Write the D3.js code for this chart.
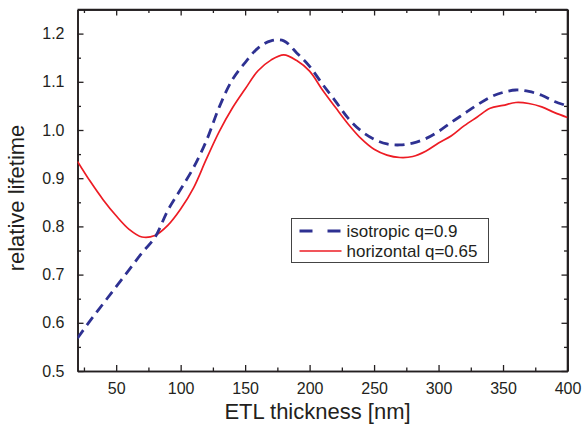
<!DOCTYPE html>
<html lang="en">
<head>
<meta charset="UTF-8" />
<title>Relative lifetime vs ETL thickness</title>
<script src="https://d3js.org/d3.v7.min.js"></script>
<style>
  body { margin: 0; background: #fff; }
  svg text { font-family: "Liberation Sans", Arial, sans-serif; fill: #231f20; }
  .axis path, .axis line { stroke: #231f20; }
</style>
</head>
<body>
<svg id="chart" width="583" height="434"></svg>
<script>
// ETL thickness in nm
var thickness = [20, 30, 40, 50, 60, 70, 80, 90, 100, 110, 120, 130, 140, 150, 160, 170, 180, 190, 200,
  210, 220, 230, 240, 250, 260, 270, 280, 290, 300, 310, 320, 330, 340, 350, 360, 370, 380, 390, 400];

var isotropic = [0.568, 0.605, 0.640, 0.675, 0.710, 0.745, 0.777, 0.833, 0.877, 0.922, 0.978, 1.048, 1.104, 1.140,
  1.170, 1.185, 1.185, 1.160, 1.132, 1.095, 1.060, 1.024, 0.998, 0.981, 0.971, 0.969, 0.973, 0.982, 0.997,
  1.016, 1.034, 1.052, 1.068, 1.078, 1.083, 1.080, 1.072, 1.059, 1.050];

var horizontal = [0.935, 0.893, 0.855, 0.822, 0.794, 0.778, 0.781, 0.802, 0.836, 0.880, 0.940, 0.997, 1.045, 1.085,
  1.123, 1.145, 1.156, 1.144, 1.122, 1.083, 1.047, 1.012, 0.982, 0.960, 0.948, 0.943, 0.945, 0.956, 0.973,
  0.988, 1.009, 1.027, 1.045, 1.051, 1.057, 1.055, 1.048, 1.036, 1.026];

var seriesNames = ["isotropic q=0.9", "horizontal q=0.65"];
var xTicks = [50, 100, 150, 200, 250, 300, 350, 400];
var xMinor = [25, 75, 125, 175, 225, 275, 325, 375];
var yTicks = [0.5, 0.6, 0.7, 0.8, 0.9, 1.0, 1.1, 1.2];
var yMinor = [0.55, 0.65, 0.75, 0.85, 0.95, 1.05, 1.15];

var svg = d3.select("#chart"),
  margin = { top: 9.5, right: 15.5, bottom: 63, left: 77.5 },
  width = +svg.attr("width") - margin.left - margin.right,
  height = +svg.attr("height") - margin.top - margin.bottom,
  g = svg.append("g").attr("transform", "translate(" + margin.left + "," + margin.top + ")");

var x = d3.scaleLinear().domain([20, 400]).range([0, width]);
var y = d3.scaleLinear().domain([0.5, 1.25]).range([height, 0]);

function styleAxis(sel) {
  sel.attr("class", "axis");
  sel.select(".domain").attr("stroke-width", 1.6);
  sel.selectAll(".tick line").attr("stroke-width", 1.3);
  sel.selectAll("text").style("font-size", "16px");
}

// bottom axis (ticks inside)
g.append("g").attr("transform", "translate(0," + height + ")")
  .call(d3.axisBottom(x).tickValues(xTicks).tickSizeInner(-6).tickSizeOuter(0).tickPadding(12))
  .call(styleAxis);
g.append("g").attr("transform", "translate(0," + height + ")")
  .call(d3.axisBottom(x).tickValues(xMinor).tickSizeInner(-3.5).tickSizeOuter(0).tickFormat(""))
  .call(styleAxis);
// top axis
g.append("g")
  .call(d3.axisTop(x).tickValues(xTicks).tickSizeInner(-6).tickSizeOuter(0).tickFormat(""))
  .call(styleAxis);
g.append("g")
  .call(d3.axisTop(x).tickValues(xMinor).tickSizeInner(-3.5).tickSizeOuter(0).tickFormat(""))
  .call(styleAxis);
// left axis
g.append("g")
  .call(d3.axisLeft(y).tickValues(yTicks).tickFormat(d3.format(".1f")).tickSizeInner(-6).tickSizeOuter(0).tickPadding(13))
  .call(styleAxis);
g.append("g")
  .call(d3.axisLeft(y).tickValues(yMinor).tickSizeInner(-3.5).tickSizeOuter(0).tickFormat(""))
  .call(styleAxis);
// right axis
g.append("g").attr("transform", "translate(" + width + ",0)")
  .call(d3.axisRight(y).tickValues(yTicks).tickSizeInner(-6).tickSizeOuter(0).tickFormat(""))
  .call(styleAxis);
g.append("g").attr("transform", "translate(" + width + ",0)")
  .call(d3.axisRight(y).tickValues(yMinor).tickSizeInner(-3.5).tickSizeOuter(0).tickFormat(""))
  .call(styleAxis);
// top/right border lines
g.append("line").attr("x1", 0).attr("x2", width).attr("y1", 0).attr("y2", 0)
  .attr("stroke", "#231f20").attr("stroke-width", 1.6);
g.append("line").attr("x1", width).attr("x2", width).attr("y1", 0).attr("y2", height)
  .attr("stroke", "#231f20").attr("stroke-width", 1.6);

svg.append("defs").append("clipPath").attr("id", "clip")
  .append("rect").attr("width", width).attr("height", height);

function lineFor(values) {
  return d3.line()
    .x(function (d, i) { return x(thickness[i]); })
    .y(function (d) { return y(d); })
    .curve(d3.curveCatmullRom.alpha(0.5))(values);
}

var plot = g.append("g").attr("clip-path", "url(#clip)");

plot.append("path").attr("d", lineFor(horizontal))
  .attr("fill", "none").attr("stroke", "#ed1c24").attr("stroke-width", 1.7);

plot.append("path").attr("d", lineFor(isotropic))
  .attr("fill", "none").attr("stroke", "#2e3192").attr("stroke-width", 2.8)
  .attr("stroke-dasharray", "10,6");

// legend
var legend = svg.append("g").attr("transform", "translate(291.5,218.5)");
legend.append("rect").attr("width", 197).attr("height", 44)
  .attr("fill", "#fff").attr("stroke", "#444").attr("stroke-width", 1);
legend.append("line").attr("x1", 8).attr("x2", 50).attr("y1", 12.5).attr("y2", 12.5)
  .attr("stroke", "#2e3192").attr("stroke-width", 2.8).attr("stroke-dasharray", "13,1,0,14");
legend.append("line").attr("x1", 8).attr("x2", 50).attr("y1", 32.5).attr("y2", 32.5)
  .attr("stroke", "#ed1c24").attr("stroke-width", 1.7);
legend.selectAll(".lbl").data(seriesNames).enter().append("text")
  .attr("class", "lbl")
  .attr("x", 55)
  .attr("y", function (d, i) { return 18.5 + i * 20; })
  .style("font-size", "17px")
  .text(function (d) { return d; });

// axis titles
svg.append("text")
  .attr("x", margin.left + width / 2 - 5)
  .attr("y", 419)
  .attr("text-anchor", "middle")
  .style("font-size", "22px")
  .text("ETL thickness [nm]");

svg.append("text")
  .attr("transform", "translate(24,198) rotate(-90)")
  .attr("text-anchor", "middle")
  .style("font-size", "22px")
  .text("relative lifetime");
</script>
</body>
</html>
